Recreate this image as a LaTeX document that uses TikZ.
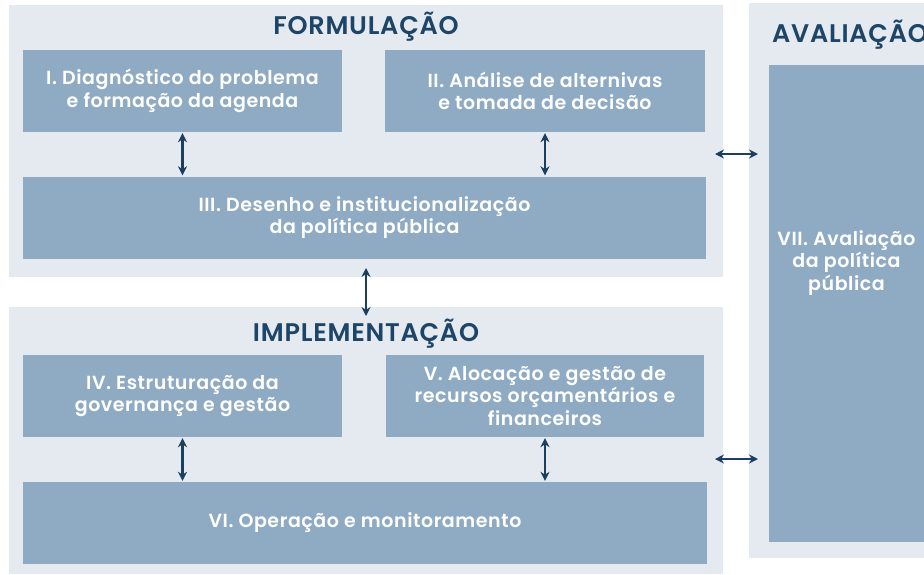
\documentclass[tikz,border=0pt]{standalone}
\usepackage{fontspec}
\setmainfont{Poppins}
\newfontfamily\semib{Poppins SemiBold}[LetterSpace=3]
\usetikzlibrary{arrows.meta}
\definecolor{panelbg}{HTML}{E5EAF1}
\definecolor{boxbg}{HTML}{8FABC4}
\definecolor{titlec}{HTML}{1D4567}
\definecolor{arrowc}{HTML}{1B3F5E}
\tikzset{
  panel/.style={fill=panelbg, draw=none, inner sep=0pt},
  stagebox/.style={fill=boxbg, draw=none, inner sep=0pt, align=center,
    text=white, font=\semib\fontsize{19}{22.5}\selectfont},
  stagetext/.style={inner sep=0pt, align=center,
    text=white, font=\semib\fontsize{19}{22.5}\selectfont},
  paneltitle/.style={text=titlec, font=\semib\fontsize{25.5}{28}\selectfont, inner sep=0pt},
  dar/.style={arrowc, line width=2.2pt, {Stealth[length=9pt,width=9pt]}-{Stealth[length=9pt,width=9pt]}, shorten <=1pt, shorten >=1pt}
}
\begin{document}
\begin{tikzpicture}[x=1pt,y=-1pt]
\useasboundingbox (0,0) rectangle (924,574);
\clip (0,0) rectangle (924,574);
\fill[white] (0,0) rectangle (924,574);
% panels
\node[panel, minimum width=714pt, minimum height=272pt] (F) at (366,141) {};
\node[panel, minimum width=714pt, minimum height=267pt] (M) at (366,440.5) {};
\node[panel, minimum width=198pt, minimum height=555pt] (A) at (848,280.5) {};
% titles
\node[paneltitle] (tF) at (366,27) {FORMULAÇÃO};
\node[paneltitle] (tM) at (366,334) {IMPLEMENTAÇÃO};
\node[paneltitle, anchor=west] (tA) at (772,35) {AVALIAÇÃO};
% boxes
\node[stagebox, minimum width=319pt, minimum height=82pt] (b1) at (182.5,91) {I. Diagnóstico do problema\\e formação da agenda};
\node[stagebox, minimum width=320pt, minimum height=82pt] (b2) at (545,91) {II. Análise de alternivas\\e tomada de decisão};
\node[stagebox, minimum width=683pt, minimum height=82pt] (b3) at (364.5,217.5) {III. Desenho e institucionalização\\da política pública};
\node[stagebox, minimum width=319pt, minimum height=82pt] (b4) at (182.5,396) {IV. Estruturação da\\governança e gestão};
\node[stagebox, minimum width=318pt, minimum height=82pt] (b5) at (545,396) {V. Alocação e gestão de\\recursos orçamentários e\\financeiros};
\node[stagebox, minimum width=684pt, minimum height=82pt] (b6) at (365,523) {VI. Operação e monitoramento};
\node[stagebox, minimum width=158pt, minimum height=477pt] (b7) at (848,303.5) {};
\node[stagetext] (b7t) at (846.5,263) {VII. Avaliação\\da política\\pública};
% arrows
\draw[dar] (b1.south) -- (b1.south |- b3.north);
\draw[dar] (b2.south) -- (b2.south |- b3.north);
\coordinate (m1) at (366,267);
\coordinate (m2) at (366,317);
\draw[dar] (m1) -- (m2);
\draw[dar] (b4.south) -- (b4.south |- b6.north);
\draw[dar] (b5.south) -- (b5.south |- b6.north);
\coordinate (h1a) at (714,154);
\coordinate (h1b) at (759,154);
\coordinate (h2a) at (714,459);
\coordinate (h2b) at (759,459);
\draw[dar] (h1a) -- (h1b);
\draw[dar] (h2a) -- (h2b);
\end{tikzpicture}
\end{document}
